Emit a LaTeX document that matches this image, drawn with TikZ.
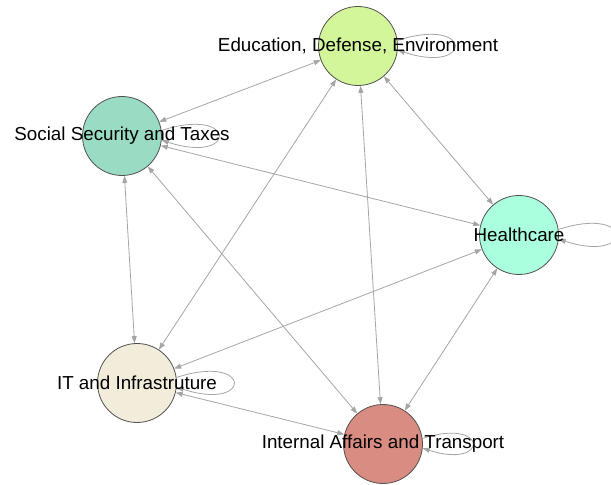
\documentclass[tikz,border=0pt]{standalone}
\usepackage{fontspec}
\setmainfont{Liberation Sans}
\usepackage{xcolor}
\usetikzlibrary{arrows.meta}

\definecolor{educol}{RGB}{212,246,155}
\definecolor{soccol}{RGB}{154,220,195}
\definecolor{heacol}{RGB}{170,255,222}
\definecolor{itcol}{RGB}{242,236,218}
\definecolor{intcol}{RGB}{217,140,130}
\definecolor{edgegray}{RGB}{165,165,165}
\definecolor{rimgray}{RGB}{80,80,80}

\begin{document}
\begin{tikzpicture}[
    x=1pt, y=1pt,
    dept/.style={circle, draw=rimgray, line width=0.8pt, minimum size=79pt, inner sep=0pt},
    tag/.style={font=\fontsize{18.8}{20}\selectfont, text=black, inner sep=0pt},
    arrow/.style={draw=edgegray, line width=0.8pt, <->, >={Triangle[length=7pt, width=5pt]}},
    selfloop/.style={draw=edgegray, line width=0.8pt, ->, >={Triangle[length=7pt, width=5pt]}},
]
    \useasboundingbox (0,0) rectangle (611,485);

    % Departments
    \node[dept, fill=educol] (edu) at (358,439) {};
    \node[dept, fill=soccol] (soc) at (122,349) {};
    \node[dept, fill=heacol] (hea) at (519,250) {};
    \node[dept, fill=itcol] (it) at (137,102) {};
    \node[dept, fill=intcol] (int) at (383,41) {};

    % Connect everything
    \draw[arrow] (edu) -- (soc);
    \draw[arrow] (edu) -- (hea);
    \draw[arrow] (edu) -- (it);
    \draw[arrow] (edu) -- (int);
    \draw[arrow] (soc) -- (hea);
    \draw[arrow] (soc) -- (it);
    \draw[arrow] (soc) -- (int);
    \draw[arrow] (hea) -- (it);
    \draw[arrow] (hea) -- (int);
    \draw[arrow] (it) -- (int);

    % Self loops
    \draw[selfloop] (edu.8) to[out=18, in=-18, distance=80pt] (edu.-6);
    \draw[selfloop] (soc.8) to[out=18, in=-18, distance=80pt] (soc.-6);
    \draw[selfloop] (hea.8) to[out=18, in=-18, distance=80pt] (hea.-6);
    \draw[selfloop] (it.8) to[out=18, in=-18, distance=80pt] (it.-6);
    \draw[selfloop] (int.8) to[out=18, in=-18, distance=70pt] (int.-6);

    % Labels
    \node[tag] (edu_label) at (edu) {Education, Defense, Environment};
    \node[tag] (soc_label) at (soc) {Social Security and Taxes};
    \node[tag] (hea_label) at (hea) {Healthcare};
    \node[tag] (it_label) at (it) {IT and Infrastruture};
    \node[tag] (int_label) at (int) {Internal Affairs and Transport};
\end{tikzpicture}
\end{document}
